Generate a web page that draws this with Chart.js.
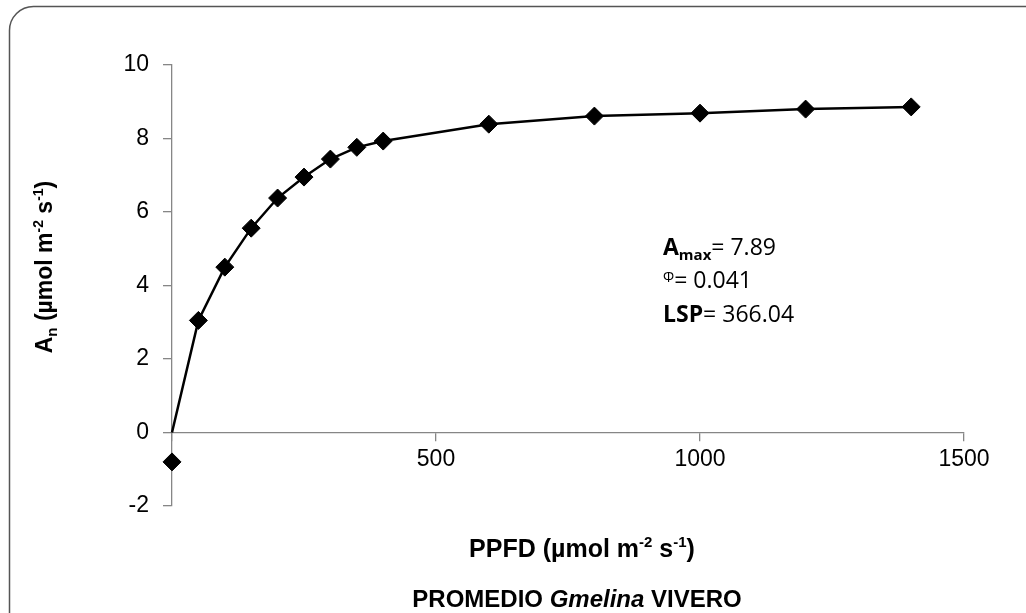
<!DOCTYPE html>
<html>
<head>
<meta charset="utf-8">
<script src="https://cdn.jsdelivr.net/npm/chart.js@4.4.1/dist/chart.umd.min.js"></script>
<style>
  html, body { margin: 0; padding: 0; background: #fff; }
  #wrap { width: 1026px; height: 613px; position: relative; }
</style>
</head>
<body>
<div id="wrap"><canvas id="c"></canvas></div>
<script>
// ---- data ----
const ppfd = [0, 50, 100, 150, 200, 250, 300, 350, 400, 600, 800, 1000, 1200, 1400];
const an   = [-0.8, 3.05, 4.5, 5.56, 6.38, 6.95, 7.44, 7.76, 7.93, 8.39, 8.61, 8.69, 8.8, 8.86];
const curveOrigin = [0, 0];           // fitted curve starts at the origin
const xMin = 0, xMax = 1500, xStep = 500;
const yMin = -2, yMax = 10, yStep = 2;
const annotation = { amax: '7.89', phi: '0.041', lsp: '366.04' };

const markerPts = ppfd.map((x, i) => ({ x: x, y: an[i] }));
const curvePts = [{ x: curveOrigin[0], y: curveOrigin[1] }].concat(markerPts.slice(1));

const AX = '#868686';
const TXT = '#000';
const ARIAL = '"Liberation Sans", Arial, sans-serif';
const CAL = '"Open Sans", sans-serif';

function drawRuns(ctx, runs, x, y, align) {
  let total = 0;
  runs.forEach(r => { ctx.font = r.font; r.w = ctx.measureText(r.text).width; total += r.w; });
  let cx = align === 'center' ? x - total / 2 : x;
  runs.forEach(r => { ctx.font = r.font; ctx.fillText(r.text, cx, y + (r.dy || 0)); cx += r.w; });
}

const decor = {
  id: 'decor',
  afterDraw(chart) {
    const ctx = chart.ctx;
    ctx.save();
    ctx.fillStyle = TXT;
    ctx.textAlign = 'left';
    ctx.textBaseline = 'alphabetic';

    // outer frame
    ctx.strokeStyle = '#555';
    ctx.lineWidth = 1.5;
    ctx.beginPath();
    if (ctx.roundRect) ctx.roundRect(9.5, 6.5, 1100, 700, 24);
    else ctx.rect(9.5, 6.5, 1100, 700);
    ctx.stroke();

    const bM = 'bold 25px ' + ARIAL, bS = 'bold 15px ' + ARIAL;
    // x title
    drawRuns(ctx, [
      { text: 'PPFD (µmol m', font: bM },
      { text: '-2', font: bS, dy: -10 },
      { text: ' s', font: bM },
      { text: '-1', font: bS, dy: -10 },
      { text: ')', font: bM }
    ], 582, 557, 'center');

    // bottom caption
    drawRuns(ctx, [
      { text: 'PROMEDIO ', font: 'bold 24px ' + ARIAL },
      { text: 'Gmelina', font: 'italic bold 24px ' + ARIAL },
      { text: ' VIVERO', font: 'bold 24px ' + ARIAL }
    ], 577, 607, 'center');

    // y title (rotated)
    const yM = 'bold 23px ' + ARIAL, yS = 'bold 14px ' + ARIAL;
    ctx.save();
    ctx.translate(52, 267);
    ctx.rotate(-Math.PI / 2);
    drawRuns(ctx, [
      { text: 'A', font: yM },
      { text: 'n', font: 'bold 15px ' + ARIAL, dy: 5 },
      { text: ' (µmol m', font: yM },
      { text: '-2', font: yS, dy: -9 },
      { text: ' s', font: yM },
      { text: '-1', font: yS, dy: -9 },
      { text: ')', font: yM }
    ], 0, 0, 'center');
    ctx.restore();

    // annotation
    const aB = 'bold 23px ' + CAL, aN = '23px ' + CAL;
    drawRuns(ctx, [
      { text: 'A', font: aB },
      { text: 'max', font: 'bold 15px ' + CAL, dy: 5 },
      { text: '= ' + annotation.amax, font: aN }
    ], 663, 255, 'left');
    drawRuns(ctx, [
      { text: 'Φ', font: '14px ' + CAL, dy: -6 },
      { text: '= ' + annotation.phi, font: aN }
    ], 663, 288, 'left');
    drawRuns(ctx, [
      { text: 'LSP', font: aB },
      { text: '= ' + annotation.lsp, font: aN }
    ], 663, 322, 'left');
    ctx.restore();
  }
};

new Chart(document.getElementById('c'), {
  type: 'scatter',
  data: {
    datasets: [
      {
        data: curvePts,
        showLine: true,
        borderColor: '#000',
        borderWidth: 2.5,
        pointRadius: 0,
        pointHoverRadius: 0,
        tension: 0,
        clip: false,
        order: 2
      },
      {
        data: markerPts,
        showLine: false,
        pointStyle: 'rectRot',
        pointRadius: 9,
        pointHoverRadius: 9,
        backgroundColor: '#000',
        borderColor: '#000',
        borderWidth: 1,
        clip: false,
        order: 1
      }
    ]
  },
  options: {
    responsive: true,
    maintainAspectRatio: false,
    animation: false,
    events: [],
    layout: { padding: { left: 112, top: 65, right: 62, bottom: 107 } },
    plugins: { legend: { display: false }, tooltip: { enabled: false }, title: { display: false } },
    scales: {
      x: {
        type: 'linear',
        min: xMin, max: xMax,
        position: { y: 0 },
        afterFit: s => { s.height = 0; },
        ticks: {
          stepSize: xStep,
          color: TXT,
          font: { family: ARIAL, size: 23 },
          padding: 5,
          maxRotation: 0,
          callback: v => (v === 0 ? '' : String(v))
        },
        grid: { drawOnChartArea: false, drawTicks: true, tickLength: 8, color: AX, lineWidth: 1.3 },
        border: { color: AX, width: 1.3 }
      },
      y: {
        type: 'linear',
        min: yMin, max: yMax,
        afterFit: s => { s.width = 60; },
        ticks: {
          stepSize: yStep,
          color: TXT,
          font: { family: ARIAL, size: 23 },
          padding: 14
        },
        grid: { drawOnChartArea: false, drawTicks: true, tickLength: 9, color: AX, lineWidth: 1.3 },
        border: { color: AX, width: 1.3 }
      }
    }
  },
  plugins: [decor]
});
</script>
</body>
</html>
